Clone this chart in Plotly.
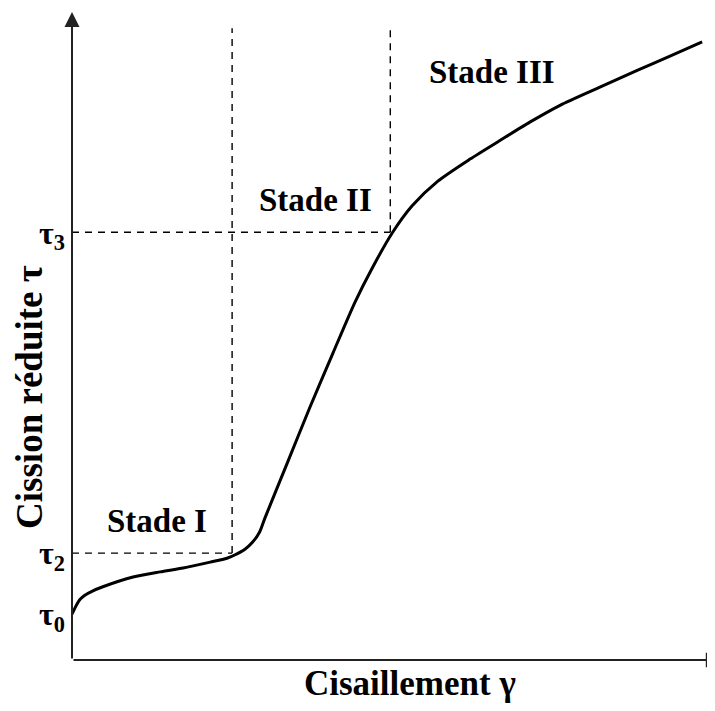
import plotly.graph_objects as go

# Curve: shear strain gamma vs resolved shear stress tau (arbitrary units, 0-10)
gamma = [0.00, 0.06, 0.12, 0.20, 0.31, 0.48, 0.95, 1.37, 1.73, 2.15, 2.41, 2.53,
         2.69, 2.81, 2.92, 3.00, 3.36, 3.70, 4.06, 4.40, 4.67, 4.98, 5.29, 5.69,
         6.19, 6.66, 7.12, 7.59, 8.21, 8.79, 9.30, 9.80]
tau = [0.71, 0.83, 0.93, 1.00, 1.06, 1.13, 1.28, 1.36, 1.42, 1.51, 1.57, 1.62,
       1.71, 1.82, 1.98, 2.19, 3.07, 3.90, 4.74, 5.52, 6.05, 6.59, 7.01, 7.39,
       7.73, 8.02, 8.30, 8.56, 8.84, 9.10, 9.32, 9.54]

# Stage boundaries and characteristic stresses
stage_bounds = [2.49, 4.95]          # gamma at end of stage I and stage II
tau_levels = [0.71, 1.65, 6.60]      # tau0, tau2, tau3
tau_labels = ["τ<sub>0</sub>", "τ<sub>2</sub>", "τ<sub>3</sub>"]
dash_top = 9.75

stage_names = ["Stade I", "Stade II", "Stade III"]
stage_x = [1.32, 3.78, 6.53]
stage_y = [2.15, 7.10, 9.07]

FONT = "Liberation Serif"
fig = go.Figure()

# dashed guides
dash_style = dict(color="black", width=1.4, dash="7px,6px")
fig.add_trace(go.Scatter(x=[stage_bounds[0], stage_bounds[0]], y=[tau_levels[1], dash_top],
                         mode="lines", line=dash_style, hoverinfo="skip"))
fig.add_trace(go.Scatter(x=[stage_bounds[1], stage_bounds[1]], y=[tau_levels[2], dash_top],
                         mode="lines", line=dash_style, hoverinfo="skip"))
fig.add_trace(go.Scatter(x=[0, stage_bounds[0]], y=[tau_levels[1], tau_levels[1]],
                         mode="lines", line=dash_style, hoverinfo="skip"))
fig.add_trace(go.Scatter(x=[0, stage_bounds[1]], y=[tau_levels[2], tau_levels[2]],
                         mode="lines", line=dash_style, hoverinfo="skip"))

# main curve
fig.add_trace(go.Scatter(x=gamma, y=tau, mode="lines",
                         line=dict(color="black", width=3, shape="spline", smoothing=0.7),
                         hoverinfo="skip"))

annotations = []
# axes with arrows
annotations.append(dict(x=0, y=10, ax=0, ay=0, xref="x", yref="y", axref="x", ayref="y",
                        showarrow=True, arrowhead=2, arrowsize=1.5, arrowwidth=2,
                        arrowcolor="#222", text=""))
annotations.append(dict(x=10.09, y=0, ax=0, ay=0, xref="x", yref="y", axref="x", ayref="y",
                        showarrow=True, arrowhead=2, arrowsize=1.5, arrowwidth=2,
                        arrowcolor="#222", text=""))
for name, sx, sy in zip(stage_names, stage_x, stage_y):
    annotations.append(dict(x=sx, y=sy, xref="x", yref="y", text=name, showarrow=False,
                            xanchor="center", yanchor="middle",
                            font=dict(family=FONT, size=33, color="black", weight="bold")))
annotations.append(dict(x=0.526, y=-0.0355, xref="paper", yref="paper", text="Cisaillement γ",
                        showarrow=False, xanchor="center", yanchor="middle",
                        font=dict(family=FONT, size=35, color="black", weight="bold")))
annotations.append(dict(x=-0.0653, y=0.406, xref="paper", yref="paper", text="Cission réduite τ",
                        showarrow=False, textangle=-90, xanchor="center", yanchor="middle",
                        font=dict(family=FONT, size=37, color="black", weight="bold")))

fig.update_layout(
    width=707, height=703,
    margin=dict(l=64, r=0, t=4, b=51, autoexpand=False),
    paper_bgcolor="white", plot_bgcolor="white",
    showlegend=False,
    annotations=annotations,
    xaxis=dict(range=[0, 10], showgrid=False, zeroline=False, showline=False,
               showticklabels=False, ticks=""),
    yaxis=dict(range=[0, 10], showgrid=False, zeroline=False, showline=False,
               tickvals=tau_levels, ticktext=tau_labels, ticks="",
               ticklabelstandoff=6,
               tickfont=dict(family=FONT, size=32, color="black", weight="bold")),
)

fig.write_html("out.html")
